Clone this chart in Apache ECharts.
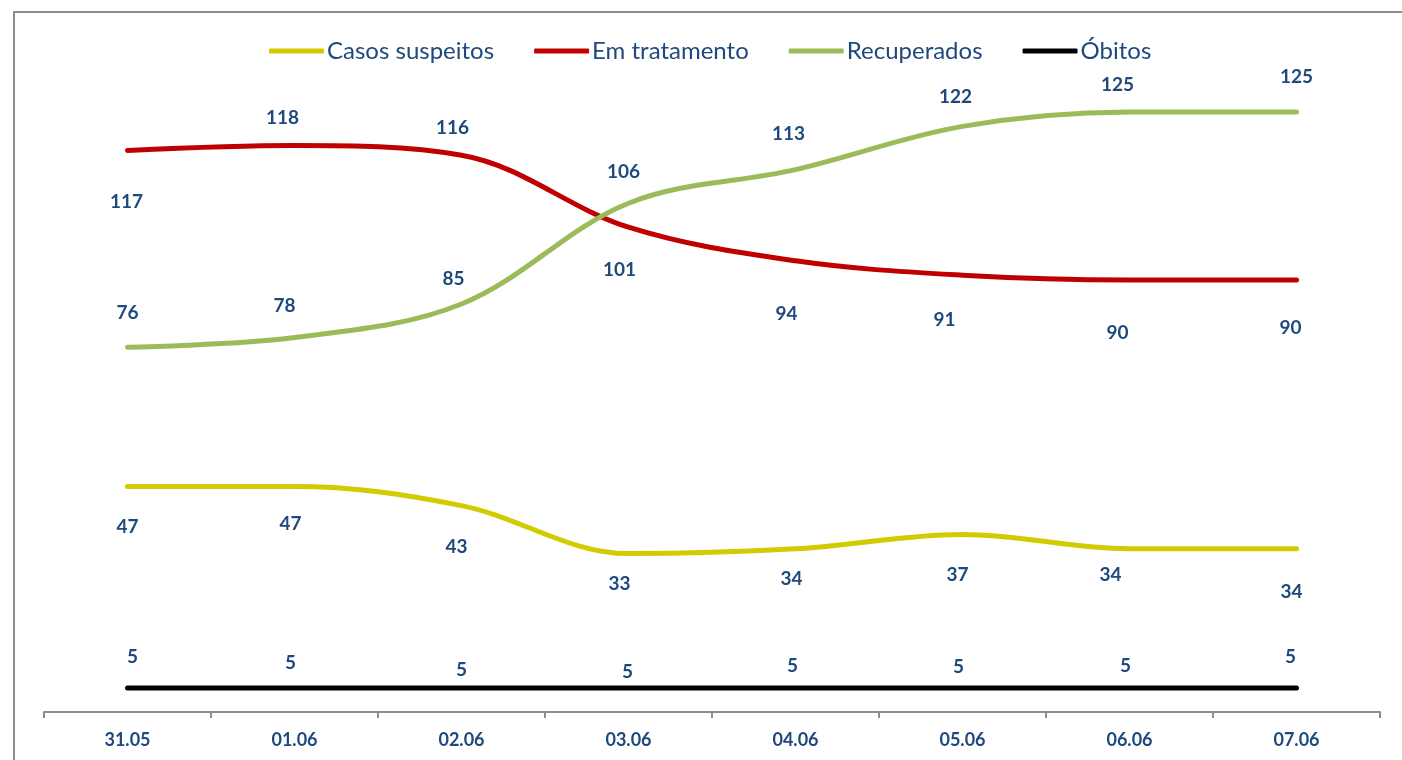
<!DOCTYPE html>
<html>
<head>
<meta charset="utf-8">
<script src="https://cdn.jsdelivr.net/npm/echarts@6/dist/echarts.min.js"></script>
<style>
  html, body { margin: 0; padding: 0; background: #ffffff; }
  #chart { width: 1402px; height: 760px; }
</style>
</head>
<body>
<div id="chart"></div>
<script>
// ---- data ----
var categories = ['31.05', '01.06', '02.06', '03.06', '04.06', '05.06', '06.06', '07.06'];
var seriesNames = ['Casos suspeitos', 'Em tratamento', 'Recuperados', 'Óbitos'];
var casosSuspeitos = [47, 47, 43, 33, 34, 37, 34, 34];
var emTratamento   = [117, 118, 116, 101, 94, 91, 90, 90];
var recuperados    = [76, 78, 85, 106, 113, 122, 125, 125];
var obitos         = [5, 5, 5, 5, 5, 5, 5, 5];

// ---- label placement (style only: pixel offsets of each value label from its point) ----
var casosLabelOffsets = [[0,40],[-4,37],[-5,41],[-9,30],[-4,30],[-5,40],[-19,26],[-5,43]];
var tratLabelOffsets  = [[-1,51],[-12,-28],[-9,-27],[-9,43],[-9,53],[-18,45],[-12,53],[-6,48]];
var recLabelOffsets   = [[0,-34],[-10,-32],[-8,-25],[-5,-31],[-7,-36],[-7,-30],[-12,-27],[0,-35]];
var obitosLabelOffsets= [[5,-31],[-4,-25],[0,-18],[-1,-16],[-3,-22],[-4,-21],[-4,-22],[-6,-31]];

var colors = ['#D2CB00', '#C00000', '#9BBB59', '#000000'];
var FONT = 'Lato, "Liberation Sans", sans-serif';
var TEXT_COLOR = '#1F497D';

function buildData(values, offsets) {
  return values.map(function (v, i) {
    return { value: v, label: { offset: offsets[i] } };
  });
}

function mkSeries(name, values, offsets, color) {
  return {
    name: name,
    type: 'line',
    smooth: 0.35,
    symbol: 'circle',
    symbolSize: 0,
    showSymbol: true,
    data: buildData(values, offsets),
    lineStyle: { color: color, width: 5, cap: 'round', join: 'round' },
    itemStyle: { color: color },
    label: {
      show: true,
      position: 'inside',
      color: TEXT_COLOR,
      fontFamily: FONT,
      fontWeight: 'bold',
      fontSize: 19
    },
    emphasis: { disabled: true },
    animation: false
  };
}

var chart = echarts.init(document.getElementById('chart'), null, { renderer: 'canvas' });
chart.setOption({
  backgroundColor: '#ffffff',
  animation: false,
  graphic: [{
    type: 'rect',
    shape: { x: 14, y: 12, width: 1600, height: 1000 },
    style: { fill: 'none', stroke: '#8c8c8c', lineWidth: 2 },
    silent: true,
    z: -10
  }],
  legend: {
    top: 34,
    left: 264,
    itemWidth: 55,
    itemHeight: 5,
    itemGap: 40,
    icon: 'roundRect',
    textStyle: { color: TEXT_COLOR, fontFamily: FONT, fontSize: 24, padding: [0, 0, 0, -2] },
    data: seriesNames.map(function (n, i) {
      return { name: n, itemStyle: { color: colors[i] } };
    })
  },
  grid: { left: 44, right: 22, top: 40, bottom: 48, containLabel: false },
  xAxis: {
    type: 'category',
    data: categories,
    boundaryGap: true,
    axisLine: { show: true, lineStyle: { color: '#8c8c8c', width: 2 } },
    axisTick: { show: true, length: 6, inside: false, lineStyle: { color: '#8c8c8c', width: 2 } },
    axisLabel: { color: TEXT_COLOR, fontFamily: FONT, fontWeight: 'bold', fontSize: 18, margin: 19 },
    splitLine: { show: false }
  },
  yAxis: {
    type: 'value',
    min: 0,
    max: 140,
    show: false
  },
  series: [
    mkSeries(seriesNames[0], casosSuspeitos, casosLabelOffsets, colors[0]),
    mkSeries(seriesNames[1], emTratamento, tratLabelOffsets, colors[1]),
    mkSeries(seriesNames[2], recuperados, recLabelOffsets, colors[2]),
    mkSeries(seriesNames[3], obitos, obitosLabelOffsets, colors[3])
  ]
});
</script>
</body>
</html>
